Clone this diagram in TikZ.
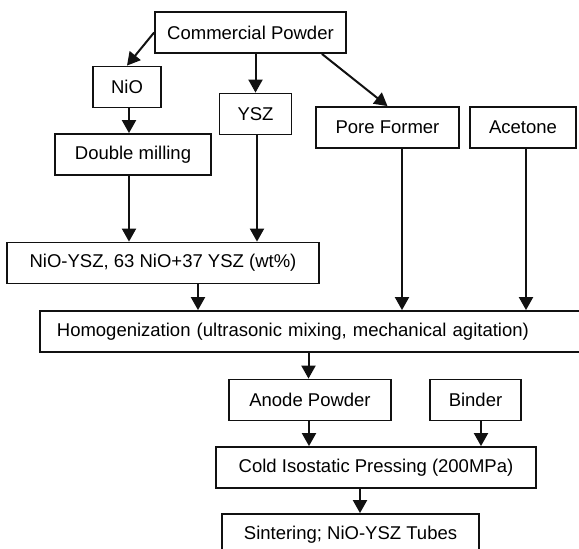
\documentclass[tikz,border=0pt]{standalone}
\usepackage{fontspec}
\setmainfont{Liberation Sans}
\usepackage{xcolor}
\usetikzlibrary{calc,arrows.meta,positioning}
\definecolor{inkx}{HTML}{111111}
\tikzset{
  ar/.style={-{Triangle[length=13pt,width=14pt]},line width=2pt,inkx},
  box/.style={draw=inkx,line width=1.8pt,fill=white,align=center,inner sep=0pt,
    minimum height=41pt,font=\fontsize{18.5}{22}\selectfont}
}
\begin{document}
\begin{tikzpicture}[x=1pt,y=-1pt]
\useasboundingbox (0,0) rectangle (579,549);
\clip (0,0) rectangle (579,549);
\node[box,minimum width=191pt] (cp) at (250.5,32.5) {Commercial Powder};
\node[box,minimum width=68pt] (nio) at (127,87) {NiO};
\node[box,minimum width=72pt] (ysz) at (255.5,114) {YSZ};
\node[box,minimum width=156pt] (dm) at (133,154.5) {Double milling};
\node[box,minimum width=143pt] (pf) at (387.5,127.5) {Pore Former};
\node[box,minimum width=106pt] (ac) at (523,127.5) {Acetone};
\node[box,minimum width=312pt] (mix) at (163,263) {NiO-YSZ, 63 NiO+37 YSZ (wt\%)};
\node[box,anchor=west,text width=530pt,align=left,inner xsep=17pt] (homog) at (39,331.5)
  {Homogenization (ultrasonic mixing, mechanical agitation)};
\node[box,minimum width=162pt] (anode) at (310,400) {Anode Powder};
\node[box,minimum width=91pt] (binder) at (475.5,400) {Binder};
\node[box,minimum width=320pt] (cip) at (376,467.5) {Cold Isostatic Pressing (200MPa)};
\node[box,minimum width=257pt] (sint) at (350.5,534.5) {Sintering; NiO-YSZ Tubes};
% connector feet
\coordinate (nioS) at ($(nio.south)+(2,0)$);
\coordinate (dmS) at ($(dm.south)+(-4,0)$);
\coordinate (yszS) at ($(ysz.south)+(1.5,0)$);
\coordinate (mixS) at ($(mix.south)+(35,0)$);
\coordinate (pfS) at ($(pf.south)+(14.5,0)$);
\coordinate (acS) at ($(ac.south)+(3,0)$);
\coordinate (anodeN) at ($(anode.north)+(-1.5,0)$);
\coordinate (anodeS) at ($(anode.south)+(-1,0)$);
\coordinate (binderS) at ($(binder.south)+(5.5,0)$);
\coordinate (cipS) at ($(cip.south)+(-16,0)$);
% arrows from the powder
\draw[ar] (cp.west) -- (nio.north);
\draw[ar] (cp.south -| ysz.north) -- (ysz.north);
\draw[ar] ($(cp.south east)+(-25,0)$) -- (pf.north);
% NiO and YSZ branch
\draw[ar] (nioS) -- (nioS |- dm.north);
\draw[ar] (dmS) -- (dmS |- mix.north);
\draw[ar] (yszS) -- (yszS |- mix.north);
% into homogenization
\draw[ar] (mixS) -- (mixS |- homog.north);
\draw[ar] (pfS) -- (pfS |- homog.north);
\draw[ar] (acS) -- (acS |- homog.north);
% pressing and sintering
\draw[ar] (anodeN |- homog.south) -- (anodeN);
\draw[ar] (anodeS) -- (anodeS |- cip.north);
\draw[ar] (binderS) -- (binderS |- cip.north);
\draw[ar] (cipS) -- (cipS |- sint.north);
\end{tikzpicture}
\end{document}
